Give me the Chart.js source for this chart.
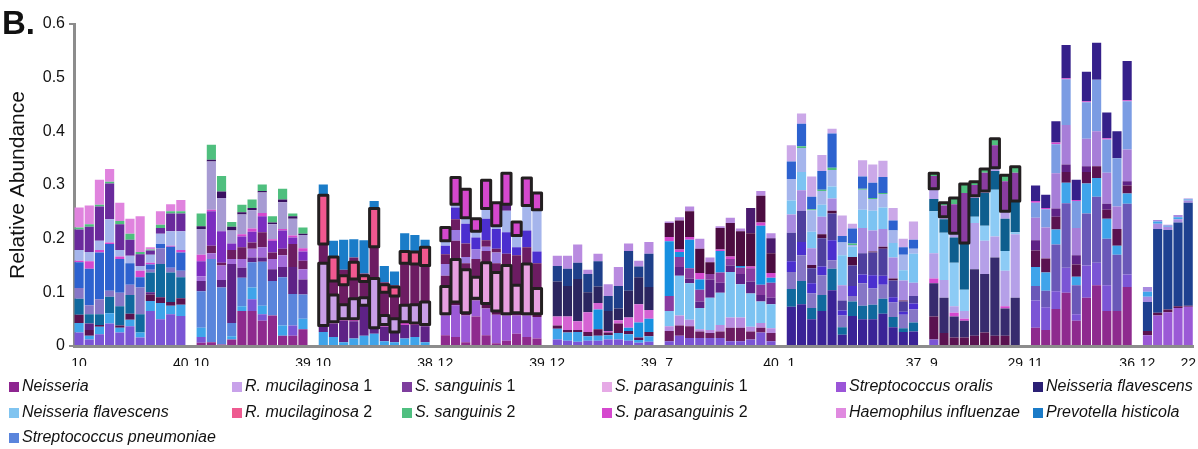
<!DOCTYPE html>
<html><head><meta charset="utf-8">
<script src="https://cdn.jsdelivr.net/npm/chart.js@4.4.1/dist/chart.umd.min.js"></script>
<style>
html,body{margin:0;padding:0;background:#fff;}
#wrap{position:relative;width:1198px;height:449px;overflow:hidden;font-family:"Liberation Sans",Arial,sans-serif;}
canvas{position:absolute;left:0;top:0;}
#panel{position:absolute;left:2px;top:6px;font-weight:bold;font-size:33px;line-height:1;color:#111;}
.lg{position:absolute;font-size:16px;line-height:18px;height:18px;color:#111;white-space:nowrap;}
.lg .t{position:absolute;left:13px;top:0;}
.lg i{font-style:italic;}
.sw{position:absolute;left:0;top:5px;width:10px;height:10px;}
</style></head><body>
<div id="wrap"><canvas id="c" width="1198" height="449"></canvas><div id="panel">B.</div><div id="legend"></div></div>
<script>
// ---------- tick labels (first / last subject of each group) ----------
const startLabels = ['10','10','10','12','12','7','1','9','11','12'];
const endLabels   = ['40','39','38','39','39','40','37','29','36','22'];

// ---------- group 1 ----------
const g1Layers = ['mpu','sky','mar','dpu','tea','per','roy','sp2','lsb','ss1','ss2','hin'];
const g1Bars = [
 [0.025,0.018,0.015,0,0.030,0.020,0.048,0.003,0.020,0.038,0.004,0.037],
 [0.012,0.007,0.011,0.012,0.017,0.017,0.068,0.014,0.017,0.047,0.005,0.035],
 [0.022,0.014,0.003,0,0.020,0.028,0.087,0.005,0.017,0.064,0.003,0.047],
 [0.042,0.019,0,0,0.031,0.011,0.087,0.003,0.043,0.067,0.003,0.024],
 [0.025,0.009,0.004,0,0.036,0.025,0.063,0.005,0.012,0.048,0.006,0.034],
 [0.037,0.012,0.011,0,0.035,0.019,0.040,0,0.014,0.030,0.011,0.028],
 [0.016,0.009,0,0,0.034,0.050,0.019,0.012,0.009,0.022,0.004,0.067],
 [0.065,0.019,0.012,0.004,0.037,0.005,0.010,0.003,0.015,0.008,0.002,0.004],
 [0.050,0.030,0.011,0,0.062,0.029,0.008,0,0.019,0.011,0.006,0.025],
 [0.059,0.016,0.007,0,0.055,0.009,0.039,0.002,0.027,0.033,0.004,0.013],
 [0.056,0.021,0.012,0,0.039,0.012,0.034,0.005,0.035,0.033,0.004,0.021]
];
// ---------- group 2 ----------
const g2Layers = ['nei','mpu','sky','spn','dpu','sor','mrn','ss1b','sp2','lgp','dk','ss2'];
const g2Bars = [
 [0.006,0.011,0.017,0.068,0.019,0.009,0,0.028,0.012,0.048,0.005,0.024],
 [0.007,0,0,0.155,0,0.011,0.014,0.064,0.003,0.090,0.003,0.028],
 [0.003,0,0,0.106,0.014,0.027,0.005,0.059,0,0.062,0.012,0.029],
 [0.012,0,0.006,0.025,0.110,0.009,0.017,0.012,0,0.024,0.007,0.009],
 [0.065,0,0.009,0.053,0.019,0.016,0.022,0.020,0.004,0.037,0.004,0.014],
 [0.065,0.022,0.022,0.047,0.009,0.016,0.012,0.020,0.006,0.034,0.004,0.016],
 [0.047,0.012,0.016,0.082,0.008,0.019,0.028,0.030,0.006,0.038,0.003,0.012],
 [0.057,0,0,0.064,0.022,0.019,0.012,0.022,0.003,0.028,0.003,0.012],
 [0.019,0,0.019,0.090,0.019,0.022,0.012,0.034,0.003,0.050,0.005,0.020],
 [0.019,0.019,0,0.059,0.050,0,0.043,0.012,0.004,0.031,0.005,0.005],
 [0.031,0,0.020,0.045,0.028,0.019,0.016,0.017,0.006,0.025,0.002,0.012]
];
// ---------- group 3 ----------
const g3Layers = ['sky','dpu','sp2','rm1','mrn','rm2','mrn','pre'];
const g3Bars = [
 [0.026,0.012,0,0.116,0.036,0.091,0,0.020],
 [0.017,0.025,0.003,0.050,0.026,0.045,0,0.030],
 [0.007,0.040,0.004,0.026,0.037,0.017,0.011,0.056],
 [0.014,0.032,0.005,0.037,0.037,0.031,0.009,0.034],
 [0.019,0.057,0,0.014,0.030,0.011,0.004,0.062],
 [0.023,0.011,0,0.092,0.059,0.071,0,0.014],
 [0.009,0.027,0.004,0.017,0.043,0.014,0.005,0.030],
 [0.007,0.019,0,0.025,0.042,0.017,0.003,0.026],
 [0.014,0.025,0.006,0.031,0.078,0.022,0,0.034],
 [0.017,0.022,0.004,0.034,0.076,0.022,0,0.032],
 [0.007,0.030,0.003,0.042,0.068,0.034,0,0.014]
];
// ---------- group 4 ----------
const g4Layers = ['nei','pur10','mar','sp1','mrn','lvp','mrn','ind','lsb','dpu','sp2'];
const g4Bars = [
 [0.020,0.037,0.003,0.051,0.020,0.022,0.018,0.016,0.009,0,0.025],
 [0.017,0.059,0.006,0.079,0.035,0.020,0.020,0.022,0.006,0,0.050],
 [0.007,0.050,0.005,0.080,0.012,0.012,0.025,0.037,0.011,0,0.053],
 [0.055,0.030,0.004,0.039,0.034,0.018,0,0.022,0.012,0,0.023],
 [0.020,0.050,0.009,0.076,0.022,0.008,0.012,0.040,0.019,0,0.053],
 [0.005,0.053,0.007,0.072,0.017,0.020,0.007,0.037,0.006,0,0.043],
 [0.010,0.047,0.003,0.090,0.022,0,0,0.040,0.040,0.012,0.058],
 [0.023,0.034,0.005,0.051,0.056,0,0,0.015,0.022,0,0.025],
 [0.017,0.040,0.003,0.093,0.031,0,0,0.031,0.047,0,0.051],
 [0.014,0.040,0.006,0.047,0.047,0,0,0.022,0.078,0,0.031]
];
// ---------- group 5 ----------
const g5Layers = ['mpu','sky','mar','prb','pk5','nfd','nav','rmt'];
const g5Bars = [
 [0.012,0.020,0.006,0,0.017,0.065,0.029,0.019],
 [0.010,0.015,0.005,0,0.025,0.057,0.032,0.024],
 [0.008,0.018,0.004,0,0.016,0.079,0.030,0.034],
 [0.010,0.008,0.008,0,0.037,0.037,0.034,0.008],
 [0.010,0.009,0.012,0.037,0.012,0.031,0.047,0.014],
 [0.012,0.008,0.005,0,0.003,0.037,0.028,0.022],
 [0.012,0.012,0.018,0,0.006,0.022,0.042,0.035],
 [0.010,0.012,0.006,0.006,0.019,0.050,0.074,0.014],
 [0.006,0.005,0.005,0.028,0.034,0.050,0.020,0.011],
 [0.008,0.010,0.008,0.025,0.016,0.043,0.062,0.022]
];
// ---------- group 6 ----------
const g6Layers = ['mpu','mrn','rmt','nfl','dpu','ss18','prb','sp2','mr2','dpt','rmt'];
const g6Bars = [
 [0.009,0.019,0.009,0.028,0,0.028,0.102,0.008,0.026,0,0.003],
 [0.019,0.019,0.019,0.074,0.016,0.019,0.009,0.005,0.054,0,0.006],
 [0.015,0.022,0.012,0.068,0.009,0.019,0.053,0.005,0.048,0,0.009],
 [0.015,0.012,0.004,0.040,0.012,0.022,0.019,0.012,0.045,0,0.019],
 [0.015,0.009,0.006,0.060,0.034,0.010,0,0,0.022,0,0.009],
 [0.015,0.012,0.012,0.060,0.019,0.019,0.040,0.003,0.040,0,0.003],
 [0.009,0.025,0.019,0.085,0.012,0.012,0,0.005,0.062,0,0.010],
 [0.009,0.025,0.019,0.062,0.019,0.012,0.003,0,0.065,0,0.005],
 [0.012,0.015,0.009,0.062,0.022,0.025,0,0.003,0.062,0.047,0],
 [0.025,0.009,0.009,0.040,0.012,0.019,0.110,0.006,0.050,0,0.009],
 [0.009,0.015,0.009,0.045,0.012,0.028,0.009,0.009,0.037,0.028,0.009]
];
// ---------- group 7 ----------
const g7Layers = ['din','tea','per','ind','sla','mr2','lav','nfl','lsb','ss2','roy','rml'];
const g7Bars = [
 [0.073,0.033,0.032,0.020,0.053,0,0.034,0.026,0.040,0,0.033,0.030],
 [0.078,0.043,0.048,0.025,0.058,0,0.038,0.034,0.045,0.003,0.042,0.019],
 [0.050,0.021,0.027,0.019,0.028,0.006,0.031,0.031,0.040,0.002,0.023,0.038],
 [0.065,0.030,0.037,0.016,0.053,0.007,0.033,0.022,0.026,0.002,0.035,0.030],
 [0.104,0.040,0.016,0.037,0.050,0.005,0.023,0.022,0.031,0.004,0.064,0.009],
 [0.021,0.014,0.022,0.009,0.019,0,0.028,0.056,0.024,0,0.012,0.038],
 [0.056,0.027,0.010,0.019,0.038,0.016,0,0.019,0.003,0.003,0.028,0.009],
 [0.050,0.025,0.042,0.016,0.040,0,0.047,0.034,0.037,0.002,0.023,0.030],
 [0.050,0.027,0.030,0.025,0.042,0.002,0.039,0.037,0.022,0.002,0.028,0.034],
 [0.060,0.028,0.026,0.017,0.050,0.004,0.033,0.040,0.025,0.002,0.030,0.030],
 [0.035,0.019,0.027,0.010,0.031,0.004,0.039,0.027,0.023,0,0.019,0.023],
 [0.026,0.007,0.025,0.006,0.019,0.002,0.037,0.019,0.029,0,0.014,0.016],
 [0.027,0.017,0.024,0.011,0.014,0,0.025,0.054,0.009,0,0.017,0.034]
];
// ---------- group 8 ----------
const g8Layers = ['mpu','mar','nfd8','sp2','lav8','nfl8','tea8','lav8','ss18','ss2'];
const g8Bars = [
 [0.012,0.043,0.062,0.009,0.047,0.078,0.023,0.019,0.024,0.005],
 [0,0.024,0.066,0,0.033,0.088,0.025,0.005,0.021,0.005],
 [0,0.016,0.039,0.007,0.012,0.081,0.047,0.008,0.054,0.012],
 [0,0.016,0.031,0.004,0.014,0.040,0.087,0,0.093,0.017],
 [0,0.019,0.124,0,0.086,0.012,0.035,0.004,0.020,0.006],
 [0,0.025,0.109,0,0.062,0.028,0.061,0.004,0.034,0.007],
 [0,0.019,0.146,0,0.039,0.087,0.035,0.006,0.042,0.012],
 [0,0.019,0.051,0.004,0.066,0.037,0.060,0.014,0.056,0.011],
 [0,0,0.090,0,0.118,0.004,0.058,0,0.053,0.011]
];
// ---------- group 9 ----------
const g9Layers = ['nei','mpu','sl9','sky','mar','dpu','lav9','cfl','sp2','din9'];
const g9Bars = [
 [0.034,0.051,0.027,0.035,0.031,0.019,0.042,0.028,0.003,0.029],
 [0.030,0.042,0.031,0.034,0.026,0,0.058,0.034,0.002,0.025],
 [0.069,0.033,0.087,0.028,0.024,0.015,0.066,0.054,0.003,0.040],
 [0.099,0.047,0.120,0.038,0.020,0.014,0.074,0.085,0.002,0.062],
 [0.047,0.012,0.054,0.016,0.023,0.017,0.051,0.050,0.002,0.038],
 [0.090,0.060,0.097,0.056,0.021,0.011,0.051,0.068,0.002,0.055],
 [0.113,0.042,0.123,0.035,0.022,0,0.065,0.096,0,0.069],
 [0.065,0.048,0.087,0.037,0.017,0.011,0.058,0.062,0.002,0.048],
 [0.065,0,0.105,0.017,0.031,0,0.042,0.090,0,0.050],
 [0.110,0.023,0.132,0.019,0.015,0.008,0.059,0.090,0.002,0.073]
];
// ---------- group 10 ----------
const g10Layers = ['pur10','mar','nav10','lav','sky','lav'];
const g10Bars = [
 [0.020,0.008,0.054,0.010,0.009,0.009],
 [0.057,0.005,0.156,0.010,0.004,0.003],
 [0.063,0.005,0.148,0.006,0.002,0.002],
 [0.071,0.003,0.156,0.006,0.004,0.004],
 [0.073,0.002,0.192,0.004,0.002,0.002]
];

// ---------- legend ----------
const legendNames  = ['Neisseria','R. mucilaginosa','S. sanguinis','S. parasanguinis','Streptococcus oralis','Neisseria flavescens',
                      'Neisseria flavescens','R. mucilaginosa','S. sanguinis','S. parasanguinis','Haemophilus influenzae','Prevotella histicola',
                      'Streptococcus pneumoniae'];
const legendSuffix = ['',' 1',' 1',' 1','','', '',' 2',' 2',' 2','','', ''];
const legendColors = ['#8E2590','#C8A2EA','#7E3E9E','#E6AAE6','#9B55D8','#2B2075',
                      '#80C4F0','#EE5A90','#4FBF80','#D548CE','#E08AE0','#1A7BC8',
                      '#5A85DC'];

// ---------- colours (style) ----------
const palette = {
 nei:'#8E2A8E', mpu:'#7B55D5', sky:'#3FA4EA', mar:'#5A1250', dpu:'#5E2286', tea:'#10699E', per:'#8676C6',
 roy:'#2D62CF', sp2:'#D548CE', lsb:'#A5B5EC', ss1:'#6A2A9C', ss2:'#4FBF7E', hin:'#E083DE', spn:'#5A85DC',
 sor:'#A26BD9', ss1b:'#7B2DC0', lgp:'#A79BD3', dk:'#3A1060', rm1:'#C89EE6', rm2:'#F0588F', pre:'#1A7CC8',
 mrn:'#6C1C62', sp1:'#E8A0E0', ind:'#4B2FCF', lvp:'#9A7BE0', nfd:'#2B2560', nav:'#1E3F8A', rmt:'#B98BE0',
 pk5:'#D563D3', nfl:'#7CC3F2', prb:'#1890E0', mr2:'#4C0C40', dpt:'#4A1A6E', din:'#3A2396', sla:'#4E3F9E',
 lav:'#A88BE0', rml:'#CBA8E8', lav8:'#B5A0E8', nfl8:'#8CCBF5', tea8:'#0E5E8E', ss18:'#8A3CA0', nfd8:'#372B6E',
 sl9:'#6A58B8', lav9:'#A77ED8', cfl:'#7B9CE3', din9:'#35208A', pur10:'#9B59D6', nav10:'#1E4090'
};

const groups = [
 {layers:g1Layers,bars:g1Bars},{layers:g2Layers,bars:g2Bars},{layers:g3Layers,bars:g3Bars},
 {layers:g4Layers,bars:g4Bars},{layers:g5Layers,bars:g5Bars},{layers:g6Layers,bars:g6Bars},
 {layers:g7Layers,bars:g7Bars},{layers:g8Layers,bars:g8Bars},{layers:g9Layers,bars:g9Bars},
 {layers:g10Layers,bars:g10Bars}
];
// outlined (highlighted) segments: group index, layer indices
const outlineSpecs = [{g:2,k:[3]},{g:2,k:[5]},{g:3,k:[3]},{g:3,k:[10]},{g:7,k:[8,9]}];

const labels = [], cats = [], groupStart = [];
groups.forEach((g,gi)=>{
  groupStart[gi] = labels.length;
  g.bars.forEach((b,j)=>{
    labels.push(j===0 ? startLabels[gi] : (j===g.bars.length-1 ? endLabels[gi] : ''));
    cats.push({gi,j});
  });
  if (gi < groups.length-1) { labels.push(''); cats.push(null); }
});
const nSlots = Math.max(...groups.map(g=>g.layers.length));
const datasets = [];
for (let k=0;k<nSlots;k++){
  datasets.push({
    label:'layer'+k,
    data: cats.map(c=> c ? (groups[c.gi].bars[c.j][k] ?? 0) : null),
    backgroundColor: cats.map(c=> (c && groups[c.gi].layers[k]) ? palette[groups[c.gi].layers[k]] : 'rgba(0,0,0,0)'),
    borderWidth:0, barPercentage:0.9, categoryPercentage:1, stack:'s'
  });
}

const outlinePlugin = {
  id:'outlines',
  afterDatasetsDraw(chart){
    const ctx = chart.ctx;
    ctx.save();
    ctx.strokeStyle = '#231f20'; ctx.lineWidth = 3; ctx.lineJoin = 'round';
    outlineSpecs.forEach(spec=>{
      const start = groupStart[spec.g];
      groups[spec.g].bars.forEach((bar,j)=>{
        const idx = start + j;
        let l=Infinity,r=-Infinity,t=Infinity,b=-Infinity,any=false;
        spec.k.forEach(k=>{
          if (!bar[k]) return;
          const el = chart.getDatasetMeta(k).data[idx];
          const p = el.getProps(['x','y','base','width'], true);
          l=Math.min(l,p.x-p.width/2); r=Math.max(r,p.x+p.width/2);
          t=Math.min(t,p.y,p.base); b=Math.max(b,p.y,p.base); any=true;
        });
        if (any) ctx.strokeRect(l,t,r-l,b-t);
      });
    });
    ctx.restore();
  }
};

Chart.defaults.font.family = '"Liberation Sans", Arial, sans-serif';
const AXIS = '#8c8c8c';
new Chart(document.getElementById('c'), {
  type:'bar',
  data:{labels, datasets},
  options:{
    responsive:false, animation:false, devicePixelRatio:1,
    layout:{padding:{left:0,right:4,top:24,bottom:83}},
    plugins:{legend:{display:false}, tooltip:{enabled:false}},
    scales:{
      x:{
        stacked:true,
        grid:{display:false},
        border:{display:true,color:AXIS,width:3},
        ticks:{autoSkip:false,maxRotation:0,minRotation:0,padding:2,color:'#111',font:{size:14}},
        afterFit:s=>{s.height=20;}
      },
      y:{
        stacked:true, min:0, max:0.6,
        grid:{display:true,drawOnChartArea:false,drawTicks:true,tickLength:5,lineWidth:2,
              color:c=> (c.tick && (Math.abs(c.tick.value-0.6)<1e-6 || Math.abs(c.tick.value)<1e-6)) ? AXIS : 'rgba(0,0,0,0)'},
        border:{display:true,color:AXIS,width:3},
        ticks:{stepSize:0.1,padding:4,color:'#111',font:{size:16},
               callback:v=> Math.abs(v)<1e-9 ? '0' : Number(v).toFixed(1)},
        title:{display:true,text:'Relative Abundance',color:'#111',font:{size:21},padding:{top:6,bottom:0}},
        afterFit:s=>{s.width=74;}
      }
    }
  },
  plugins:[outlinePlugin]
});

// HTML legend (mixed italic / upright text)
const colX = [9,232,402,602,836,1033];
const rowY = [386,412,437];
const lg = document.getElementById('legend');
legendNames.forEach((name,i)=>{
  const d = document.createElement('div');
  d.className='lg';
  d.style.left = colX[i%6]+'px';
  d.style.top = (rowY[Math.floor(i/6)]-9)+'px';
  const sw = document.createElement('span'); sw.className='sw'; sw.style.background = legendColors[i];
  const t = document.createElement('span'); t.className='t';
  const it = document.createElement('i'); it.textContent = name;
  t.appendChild(it);
  if (legendSuffix[i]) t.appendChild(document.createTextNode(legendSuffix[i]));
  d.appendChild(sw); d.appendChild(t);
  lg.appendChild(d);
});
</script>
</body></html>
